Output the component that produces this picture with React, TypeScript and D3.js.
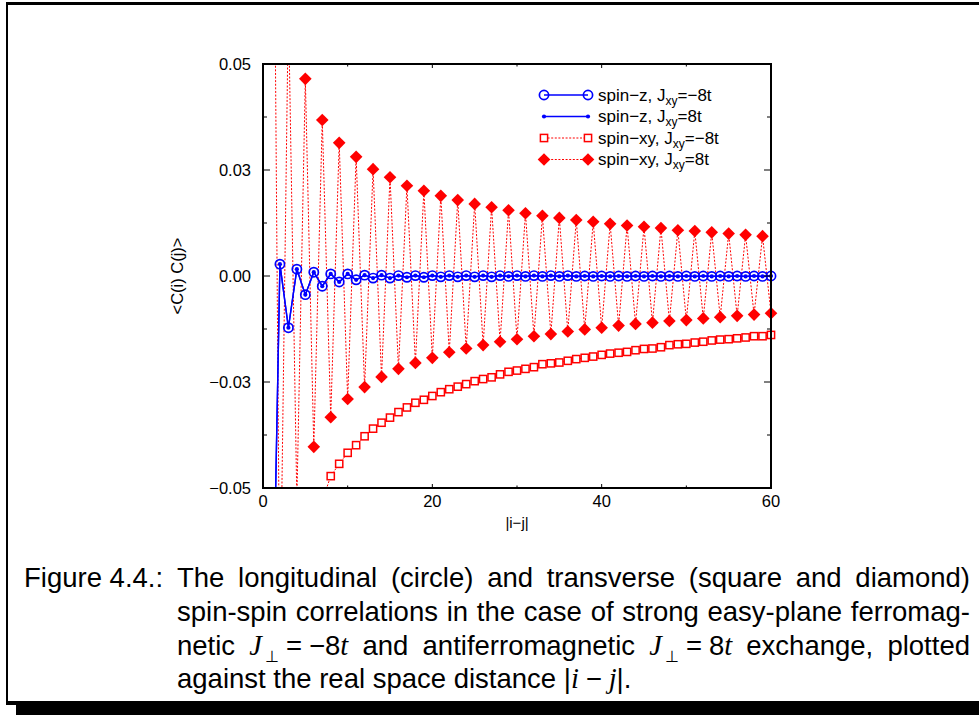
import React, { useLayoutEffect, useRef, useState } from "react";
import * as d3 from "d3";

const distances: number[] = d3.range(1, 61);

// spin-z correlations, J_xy = -8t (open circles) and J_xy = 8t (dots)
const spinZNeg: number[] = [
  -0.102, 0.0028, -0.0122, 0.0016, -0.0044, 0.0009, -0.0024, 0.0005, -0.0014, 0.0005,
  -0.0009, 0.0002, -0.0005, 0.0002, -0.0005, 0.0001, -0.0003, 0.0001, -0.0003, 0.0001,
  -0.0002, 0.0001, -0.0002, 0.0001, -0.0002, 0.0001, -0.0002, 0.0001, -0.0001, 0.0001,
  -0.0001, 0.0001, -0.0001, 0.0001, -0.0001, 0.0001, -0.0001, 0.0, -0.0001, 0.0,
  -0.0001, 0.0, -0.0001, 0.0, -0.0001, 0.0, -0.0001, 0.0, -0.0001, 0.0,
  -0.0001, 0.0, -0.0001, 0.0, -0.0001, 0.0, -0.0001, 0.0, -0.0001, 0.0,
];
const spinZPos: number[] = [
  -0.102, 0.0028, -0.0122, 0.0016, -0.0044, 0.0009, -0.0024, 0.0005, -0.0014, 0.0005,
  -0.0009, 0.0002, -0.0005, 0.0002, -0.0005, 0.0001, -0.0003, 0.0001, -0.0003, 0.0001,
  -0.0002, 0.0001, -0.0002, 0.0001, -0.0002, 0.0001, -0.0002, 0.0001, -0.0001, 0.0001,
  -0.0001, 0.0001, -0.0001, 0.0001, -0.0001, 0.0001, -0.0001, 0.0, -0.0001, 0.0,
  -0.0001, 0.0, -0.0001, 0.0, -0.0001, 0.0, -0.0001, 0.0, -0.0001, 0.0,
  -0.0001, 0.0, -0.0001, 0.0, -0.0001, 0.0, -0.0001, 0.0, -0.0001, 0.0,
];
// spin-xy correlations, J_xy = -8t (open squares)
const spinXYNeg: number[] = [
  -0.3, -0.16, -0.11, -0.085, -0.07, -0.06, -0.053, -0.0472, -0.0443, -0.0417,
  -0.0399, -0.0378, -0.036, -0.0346, -0.0334, -0.0321, -0.031, -0.0299, -0.0292, -0.0283,
  -0.0274, -0.0267, -0.0261, -0.0255, -0.0248, -0.0243, -0.0239, -0.0232, -0.0226, -0.0223,
  -0.0219, -0.0215, -0.0208, -0.0206, -0.0204, -0.02, -0.0196, -0.0193, -0.019, -0.0186,
  -0.0183, -0.0181, -0.0179, -0.0175, -0.0172, -0.0171, -0.0168, -0.0163, -0.0161, -0.016,
  -0.0157, -0.0155, -0.0152, -0.015, -0.0149, -0.0147, -0.0145, -0.0142, -0.0142, -0.0139,
];
// spin-xy correlations, J_xy = 8t (filled diamonds)
const spinXYPos: number[] = [
  0.171, -0.085, 0.064, -0.053, 0.0465, -0.0403, 0.0368, -0.0333, 0.0314, -0.029,
  0.0281, -0.0262, 0.0252, -0.0238, 0.0233, -0.0219, 0.0213, -0.0205, 0.0201, -0.0193,
  0.0189, -0.018, 0.0179, -0.0171, 0.017, -0.0163, 0.0162, -0.0155, 0.0155, -0.0149,
  0.0148, -0.0142, 0.0142, -0.0137, 0.0137, -0.0131, 0.0132, -0.0126, 0.0128, -0.0122,
  0.0123, -0.0117, 0.0119, -0.0113, 0.0116, -0.011, 0.0113, -0.0106, 0.0108, -0.0104,
  0.0106, -0.01, 0.0103, -0.0097, 0.01, -0.0094, 0.0097, -0.0091, 0.0094, -0.0088,
];

const xTicks: number[] = [0, 20, 40, 60];
const xMinorTicks: number[] = [10, 30, 50];
const yTicks: number[] = [-0.05, -0.025, 0, 0.025, 0.05];
const yMinorTicks: number[] = [-0.0375, -0.0125, 0.0125, 0.0375];

const legendLabels: string[] = ["spin\u2212z, J", "spin\u2212z, J", "spin\u2212xy, J", "spin\u2212xy, J"];
const legendValues: string[] = ["=\u22128t", "=8t", "=\u22128t", "=8t"];

const captionLabel = "Figure 4.4.:";
const captionLine1 = "The longitudinal (circle) and transverse (square and diamond)";
const captionLine2 = "spin-spin correlations in the case of strong easy-plane ferromag-";

const BLUE = "#0000ff";
const RED = "#ff0000";
const SANS = "'Liberation Sans', Arial, Helvetica, sans-serif";
const CAP = "'Liberation Sans', Arial, sans-serif";
const MATH = "'Liberation Serif', 'DejaVu Serif', serif";

const L = 263, R = 771, T = 64, B = 488;
const CAP_X = 177, CAP_R = 970;
const MSP = "\u2005"; // math spacing (not stretched by word-spacing)
const HSP = "\u2009"; // thin space

type Marker = "circle" | "dot" | "square" | "diamond";

function MarkerShape({ kind, cx, cy }: { kind: Marker; cx: number; cy: number }) {
  if (kind === "circle")
    return <circle cx={cx} cy={cy} r={4.6} fill="none" stroke={BLUE} strokeWidth={1.7} />;
  if (kind === "dot") return <circle cx={cx} cy={cy} r={2.1} fill={BLUE} />;
  if (kind === "square")
    return <rect x={cx - 3.6} y={cy - 3.6} width={7.2} height={7.2} fill="#fff" stroke={RED} strokeWidth={1.5} />;
  const s = 6.3;
  return <path d={`M${cx},${cy - s}L${cx + s},${cy}L${cx},${cy + s}L${cx - s},${cy}Z`} fill={RED} />;
}

export default function App() {
  const x = d3.scaleLinear().domain([0, 60]).range([L, R]);
  const y = d3.scaleLinear().domain([-0.05, 0.05]).range([B, T]);
  const fmt = d3.format(".2f");

  const refs = [useRef<SVGTextElement>(null), useRef<SVGTextElement>(null), useRef<SVGTextElement>(null)];
  const [ws, setWs] = useState<number[]>([0, 0, 0]);
  useLayoutEffect(() => {
    const out = refs.map((r) => {
      const el = r.current;
      if (!el) return 0;
      const w = el.getComputedTextLength();
      const n = (el.textContent || "").split(" ").length - 1;
      return n > 0 ? (CAP_R - CAP_X - w) / n : 0;
    });
    setWs(out);
    // eslint-disable-next-line react-hooks/exhaustive-deps
  }, []);

  const series = [
    { values: spinXYNeg, marker: "square" as Marker, color: RED, dash: "2,1.6", width: 1 },
    { values: spinXYPos, marker: "diamond" as Marker, color: RED, dash: "2,1.6", width: 1 },
    { values: spinZNeg, marker: "circle" as Marker, color: BLUE, dash: undefined, width: 1.4 },
    { values: spinZPos, marker: "dot" as Marker, color: BLUE, dash: undefined, width: 1.4 },
  ];
  const legendOrder: { marker: Marker; color: string; dash?: string; width: number }[] = [
    { marker: "circle", color: BLUE, width: 1.4 },
    { marker: "dot", color: BLUE, width: 1.4 },
    { marker: "square", color: RED, dash: "2,1.6", width: 1 },
    { marker: "diamond", color: RED, dash: "2,1.6", width: 1 },
  ];

  const line = (vals: number[]) =>
    d3
      .line<number>()
      .x((_, i) => x(distances[i]))
      .y((d) => y(d))(vals) || "";

  const legendY = [95, 116.5, 138, 159.5];
  const it = { fontFamily: MATH, fontStyle: "italic" as const, fontSize: 28.5 };

  return (
    <svg width={979} height={715} style={{ position: "absolute", left: 0, top: 0 }}>
      <rect x={0} y={0} width={979} height={715} fill="#fff" />
      {/* page frame */}
      <line x1={6} x2={979} y1={3.5} y2={3.5} stroke="#000" strokeWidth={3} />
      <line x1={7} x2={7} y1={2} y2={704} stroke="#000" strokeWidth={2} />
      <rect x={6} y={701} width={973} height={4} fill="#000" />
      <rect x={16} y={704} width={963} height={11} fill="#000" />

      <defs>
        <clipPath id="plotclip">
          <rect x={L} y={T} width={R - L} height={B - T} />
        </clipPath>
      </defs>

      {/* series lines */}
      <g clipPath="url(#plotclip)">
        {series.map((s, k) => (
          <path key={k} d={line(s.values)} fill="none" stroke={s.color} strokeWidth={s.width} strokeDasharray={s.dash} />
        ))}
      </g>
      {/* markers */}
      {series.map((s, k) => (
        <g key={k}>
          {s.values.map((v, i) =>
            v >= -0.05 && v <= 0.05 ? <MarkerShape key={i} kind={s.marker} cx={x(distances[i])} cy={y(v)} /> : null
          )}
        </g>
      ))}

      {/* frame & ticks */}
      <rect x={L} y={T} width={R - L} height={B - T} fill="none" stroke="#000" strokeWidth={2} />
      {xTicks.map((t) => (
        <g key={t}>
          <line x1={x(t)} x2={x(t)} y1={B} y2={B - 4} stroke="#000" strokeWidth={1} />
          <line x1={x(t)} x2={x(t)} y1={T} y2={T + 4} stroke="#000" strokeWidth={1} />
          <text x={x(t)} y={507} textAnchor="middle" fontFamily={SANS} fontSize={16.5}>{t}</text>
        </g>
      ))}
      {xMinorTicks.map((t) => (
        <g key={t}>
          <line x1={x(t)} x2={x(t)} y1={B} y2={B - 2.5} stroke="#000" strokeWidth={1} />
          <line x1={x(t)} x2={x(t)} y1={T} y2={T + 2.5} stroke="#000" strokeWidth={1} />
        </g>
      ))}
      {yTicks.map((t) => (
        <g key={t}>
          <line x1={L} x2={L + 7} y1={y(t)} y2={y(t)} stroke="#000" strokeWidth={1} />
          <line x1={R} x2={R - 7} y1={y(t)} y2={y(t)} stroke="#000" strokeWidth={1} />
          <text x={251} y={y(t)} dy="0.35em" textAnchor="end" fontFamily={SANS} fontSize={16.5}>{fmt(t)}</text>
        </g>
      ))}
      {yMinorTicks.map((t) => (
        <g key={t}>
          <line x1={L} x2={L + 4} y1={y(t)} y2={y(t)} stroke="#000" strokeWidth={1} />
          <line x1={R} x2={R - 4} y1={y(t)} y2={y(t)} stroke="#000" strokeWidth={1} />
        </g>
      ))}
      <text x={(L + R) / 2} y={528} textAnchor="middle" fontFamily={SANS} fontSize={15}>|i{"\u2212"}j|</text>
      <text transform={`translate(183,${(T + B) / 2}) rotate(-90)`} textAnchor="middle" fontFamily={SANS} fontSize={16.5}>
        {"<C(i) C(j)>"}
      </text>

      {/* legend */}
      {legendOrder.map((e, k) => (
        <g key={k}>
          <line x1={544} x2={588} y1={legendY[k]} y2={legendY[k]} stroke={e.color} strokeWidth={e.width} strokeDasharray={e.dash} />
          <MarkerShape kind={e.marker} cx={544} cy={legendY[k]} />
          <MarkerShape kind={e.marker} cx={588} cy={legendY[k]} />
          <text x={598} y={legendY[k]} dy="0.35em" fontFamily={SANS} fontSize={17}>
            {legendLabels[k]}
            <tspan fontSize={12} dy={4}>xy</tspan>
            <tspan dy={-4}>{legendValues[k]}</tspan>
          </text>
        </g>
      ))}

      {/* caption */}
      <g fontFamily={CAP} fontSize={27.5} fill="#000">
        <text x={24} y={587}>{captionLabel}</text>
        <text ref={refs[0]} x={CAP_X} y={587} wordSpacing={ws[0]}>{captionLine1}</text>
        <text ref={refs[1]} x={CAP_X} y={621} wordSpacing={ws[1]}>{captionLine2}</text>
        <text ref={refs[2]} x={CAP_X} y={655} wordSpacing={ws[2]}>
          netic <tspan {...it}>J</tspan>
          <tspan fontSize={16} dy={7}>{HSP}{"\u22a5"}</tspan>
          <tspan dy={-7}>{MSP}={MSP}{"\u2212"}8</tspan>
          <tspan {...it}>t</tspan> and antiferromagnetic{" "}
          <tspan {...it}>J</tspan>
          <tspan fontSize={16} dy={7}>{HSP}{"\u22a5"}</tspan>
          <tspan dy={-7}>{MSP}={MSP}8</tspan>
          <tspan {...it}>t</tspan> exchange, plotted
        </text>
        <text x={CAP_X} y={688}>
          against the real space distance |<tspan {...it}>i</tspan>
          {MSP}{"\u2212"}{MSP}
          <tspan {...it}>j</tspan>|.
        </text>
      </g>
    </svg>
  );
}
